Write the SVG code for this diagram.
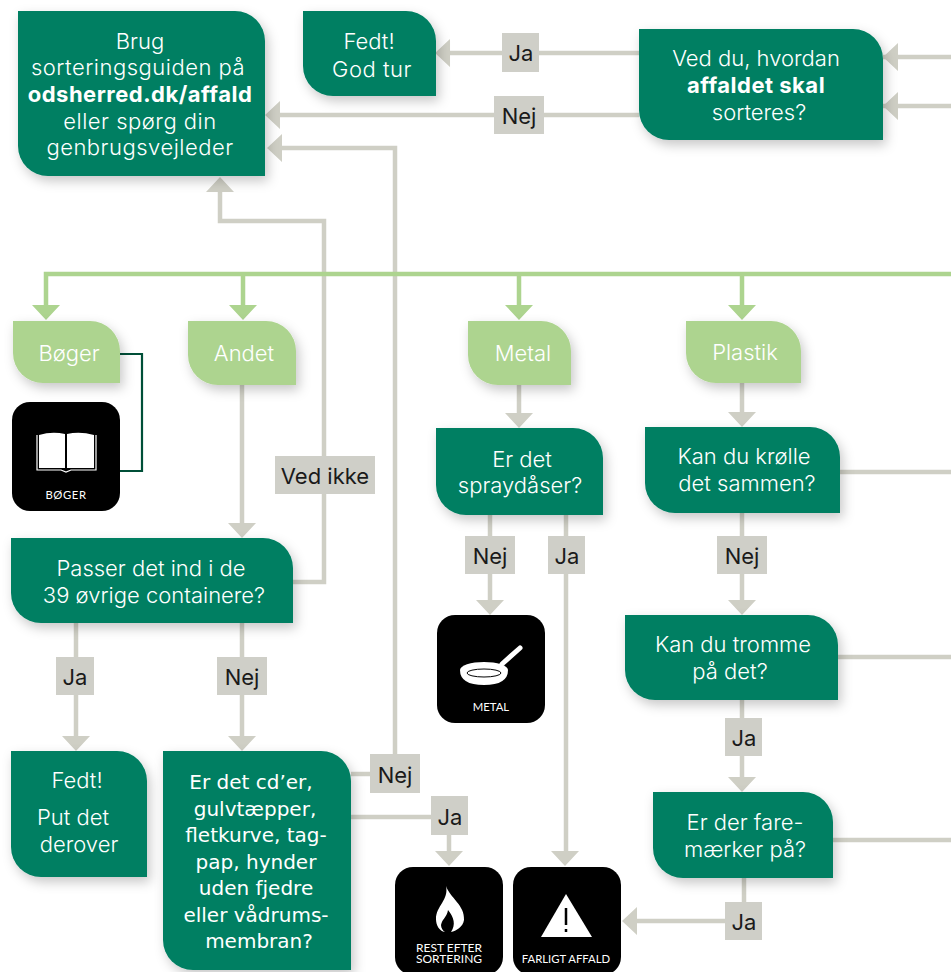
<svg xmlns="http://www.w3.org/2000/svg" width="951" height="972" viewBox="0 0 951 972">
<style>
text{font-family:"Inter","Liberation Sans",sans-serif;font-weight:300;font-size:22px;text-anchor:middle}
.w{fill:#fff}
.wide{letter-spacing:.5px}
.b{fill:#1a1a1a;font-weight:400}
.hum{font-family:"DejaVu Sans","Liberation Sans",sans-serif;font-weight:400;font-size:20px;fill:#fff}
.dg{fill:#047f62;filter:url(#sh)}
.lg{fill:#add48f;filter:url(#sh)}
.ic{fill:#000}
.il{fill:#fff;font-family:"Lato","Liberation Sans",sans-serif;font-weight:400;font-size:11.3px}
.lb{fill:#cfcfc8}
.c{fill:none;stroke:#cfcfc5;stroke-width:4.5}
.cg{fill:none;stroke:#add48f;stroke-width:4.5}
.ah{fill:#cfcfc5}
.ahg{fill:#add48f}
</style>
<defs>
<filter id="sh" x="-20%" y="-20%" width="150%" height="150%"><feDropShadow dx="3" dy="5" stdDeviation="6" flood-color="#000" flood-opacity="0.22"/></filter>
</defs>
<g id="connectors">
<path class="c" d="M639 53H440M639 115H270M883 57H951M883 106H951M395 774V148H270M220 185V221H324V582H293M351 774H395"/>
<path class="c" d="M242 385V530M76 623V743M242 623V743M351 817H449V858M519 385V420M490 515V606M566 515V858M742 383V420M742 513V606M742 700V782M744 878V921H630M840 472H951M838 657H951M833 840H951"/>
<path class="cg" d="M951 274H46V312M243 274V312M519 274V312M742 274V312"/>
<path d="M120 354H142V471H120" fill="none" stroke="#004f38" stroke-width="2.2"/>
<path class="ah" d="M435 53L450 39V67ZM265 115L280 101V129ZM267 148L282 134V162ZM220 177L234 192H206ZM883 57L898 43V71ZM883 106L898 92V120Z"/>
<path class="ah" d="M242 538L228 523H256ZM76 751L62 736H90ZM242 751L228 736H256ZM449 866L435 851H463ZM519 428L505 413H533ZM490 615L476 600H504ZM565 866L551 851H579ZM742 427L728 412H756ZM742 615L728 600H756ZM742 792L728 777H756ZM622 921L637 907V935Z"/>
<path class="ahg" d="M46 320L32 305H60ZM243 320L229 305H257ZM519 320L505 305H533ZM742 320L728 305H756Z"/>
</g>
<g id="label-ja-top"><rect class="lb" x="502" y="33" width="37" height="39"/><text class="b" x="521" y="61">Ja</text></g>
<g id="label-nej-top"><rect class="lb" x="494" y="96" width="50" height="38"/><text class="b" x="519" y="124">Nej</text></g>
<g id="label-ved-ikke"><rect class="lb" x="275" y="456" width="100" height="38"/><text class="b" x="325" y="484">Ved ikke</text></g>
<g id="label-nej-metal"><rect class="lb" x="465" y="536" width="50" height="38"/><text class="b" x="490" y="564">Nej</text></g>
<g id="label-ja-metal"><rect class="lb" x="548" y="536" width="37" height="38"/><text class="b" x="567" y="564">Ja</text></g>
<g id="label-nej-plastik"><rect class="lb" x="717" y="536" width="50" height="38"/><text class="b" x="742" y="564">Nej</text></g>
<g id="label-ja-passer"><rect class="lb" x="56" y="657" width="38" height="38"/><text class="b" x="75" y="685">Ja</text></g>
<g id="label-nej-passer"><rect class="lb" x="217" y="657" width="50" height="38"/><text class="b" x="242" y="685">Nej</text></g>
<g id="label-ja-tromme"><rect class="lb" x="725" y="718" width="37" height="38"/><text class="b" x="744" y="746">Ja</text></g>
<g id="label-nej-cd"><rect class="lb" x="370" y="754" width="50" height="39"/><text class="b" x="395" y="783">Nej</text></g>
<g id="label-ja-cd"><rect class="lb" x="431" y="796" width="37" height="39"/><text class="b" x="450" y="825">Ja</text></g>
<g id="label-ja-fare"><rect class="lb" x="725" y="902" width="37" height="38"/><text class="b" x="744" y="930">Ja</text></g>

<g id="node-brug"><path class="dg" d="M18 11H235A30 30 0 0 1 265 41V176H48A30 30 0 0 1 18 146Z"/>
<text class="w" x="140" y="49">Brug</text><text class="w wide" x="138" y="75">sorteringsguiden på</text><text class="w wide" x="140" y="102" style="font-weight:700">odsherred.dk/affald</text><text class="w wide" x="140" y="129">eller spørg din</text><text class="w wide" x="140" y="155">genbrugsvejleder</text></g>
<g id="node-fedt-tur"><path class="dg" d="M303 11H406A30 30 0 0 1 436 41V96H333A30 30 0 0 1 303 66Z"/>
<text class="w" x="369" y="49">Fedt!</text><text class="w wide" x="372" y="77">God tur</text></g>
<g id="node-ved-du"><path class="dg" d="M639 29H853A30 30 0 0 1 883 59V140H669A30 30 0 0 1 639 110Z"/>
<text class="w" x="756" y="66">Ved du, hvordan</text><text class="w wide" x="756" y="93" style="font-weight:700">affaldet skal</text><text class="w" x="759" y="120">sorteres?</text></g>

<g id="node-boger"><path class="lg" d="M13 321H90A30 30 0 0 1 120 351V383H43A30 30 0 0 1 13 353Z"/><text class="w" x="69" y="361">Bøger</text></g>
<g id="node-andet"><path class="lg" d="M188 321H266A30 30 0 0 1 296 351V385H218A30 30 0 0 1 188 355Z"/><text class="w" x="244" y="361">Andet</text></g>
<g id="node-metal"><path class="lg" d="M468 321H541A30 30 0 0 1 571 351V385H498A30 30 0 0 1 468 355Z"/><text class="w" x="523" y="361">Metal</text></g>
<g id="node-plastik"><path class="lg" d="M686 321H771A30 30 0 0 1 801 351V383H716A30 30 0 0 1 686 353Z"/><text class="w" x="745" y="360">Plastik</text></g>

<g id="icon-boger"><rect class="ic" x="12" y="402" width="108" height="109" rx="18"/>
<path d="M39 435Q52 431 65 434V468H39ZM67 434Q80 431 94 435V468H67Z" fill="#fff"/><path d="M37 435V470H61L66 472L71 470H96V435" fill="none" stroke="#fff" stroke-width="1.2"/>
<text class="il" x="66" y="499" style="letter-spacing:.6px">BØGER</text></g>
<g id="icon-metal"><rect class="ic" x="437" y="615" width="108" height="108" rx="18"/>
<path d="M460 670A24 8 0 0 1 508 670Q508 685 484 685Q460 685 460 670Z" fill="#fff"/><ellipse cx="484" cy="673" rx="17" ry="4" fill="none" stroke="#000" stroke-width="1"/><path d="M502 664L520 648" stroke="#fff" stroke-width="5" stroke-linecap="round"/>
<text class="il" x="491" y="711">METAL</text></g>
<g id="icon-rest"><rect class="ic" x="395" y="867" width="108" height="108" rx="18"/>
<path d="M446 886C450 898 465 905 464 920C463 927 456 931 451 932C456 925 454 917 448 910C447 917 442 919 441 925C441 928 443 931 445 932C439 931 436 925 436 919C436 906 449 900 446 886Z" fill="#fff"/>
<text class="il" style="font-size:12px"><tspan x="449" y="952">REST EFTER</tspan><tspan x="449" y="963">SORTERING</tspan></text></g>
<g id="icon-farligt"><rect class="ic" x="513" y="867" width="108" height="108" rx="18"/>
<path d="M566 894L592 937H541Z" fill="#fff"/><path d="M566 908V925M566 929V932" stroke="#000" stroke-width="2.5"/>
<text class="il" x="566" y="963">FARLIGT AFFALD</text></g>

<g id="node-spray"><path class="dg" d="M436 428H573A30 30 0 0 1 603 458V515H466A30 30 0 0 1 436 485Z"/><text class="w" x="522" y="467">Er det</text><text class="w" x="520" y="493">spraydåser?</text></g>
<g id="node-krolle"><path class="dg" d="M645 427H810A30 30 0 0 1 840 457V513H675A30 30 0 0 1 645 483Z"/><text class="w" x="744" y="464">Kan du krølle</text><text class="w" x="747" y="491">det sammen?</text></g>
<g id="node-passer"><path class="dg" d="M11 538H263A30 30 0 0 1 293 568V623H41A30 30 0 0 1 11 593Z"/><text class="w" x="151" y="576">Passer det ind i de</text><text class="w" x="154" y="603">39 øvrige containere?</text></g>
<g id="node-tromme"><path class="dg" d="M625 615H808A30 30 0 0 1 838 645V700H655A30 30 0 0 1 625 670Z"/><text class="w" x="733" y="652">Kan du tromme</text><text class="w" x="730" y="679">på det?</text></g>
<g id="node-fare"><path class="dg" d="M653 792H803A30 30 0 0 1 833 822V878H683A30 30 0 0 1 653 848Z"/><text class="w" x="745" y="830">Er der fare-</text><text class="w" x="745" y="857">mærker på?</text></g>
<g id="node-fedt-put"><path class="dg" d="M11 751H117A30 30 0 0 1 147 781V877H41A30 30 0 0 1 11 847Z"/><text class="w" x="77" y="788">Fedt!</text><text class="w" x="73" y="825">Put det</text><text class="w" x="79" y="852">derover</text></g>
<g id="node-cd"><path class="dg" d="M163 751H321A30 30 0 0 1 351 781V970H193A30 30 0 0 1 163 940Z"/>
<text class="hum" x="251" y="789">Er det cd’er,</text><text class="hum" x="255" y="816">gulvtæpper,</text><text class="hum" x="256" y="842">fletkurve, tag-</text><text class="hum" x="256" y="869">pap, hynder</text><text class="hum" x="256" y="895">uden fjedre</text><text class="hum" x="256" y="922">eller vådrums-</text><text class="hum" x="259" y="948">membran?</text></g>
</svg>
